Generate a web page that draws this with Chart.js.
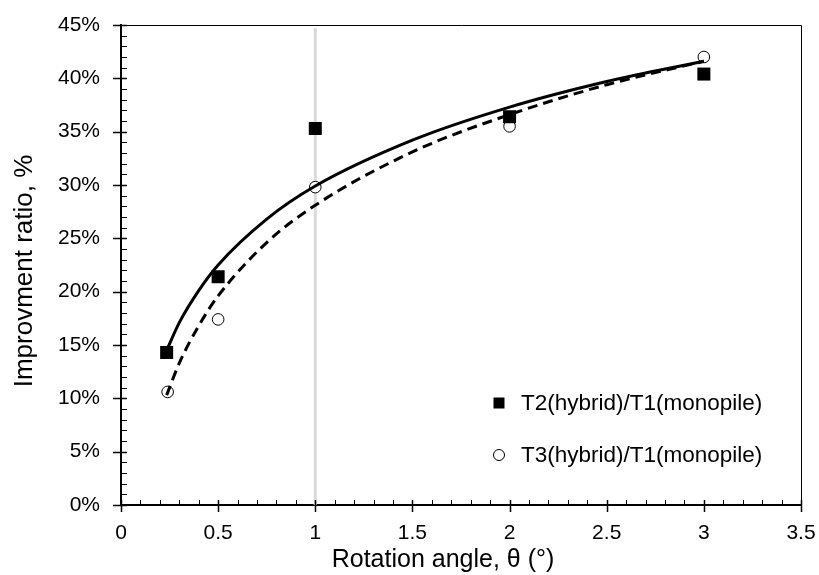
<!DOCTYPE html>
<html>
<head>
<meta charset="utf-8">
<script src="https://cdn.jsdelivr.net/npm/chart.js@4.4.1/dist/chart.umd.min.js"></script>
<style>
  html, body { margin: 0; padding: 0; background: #fff; }
  #wrap { width: 819px; height: 575px; }
</style>
</head>
<body>
<div id="wrap"><canvas id="ratioChart" width="819" height="575"></canvas></div>
<script>
// measured points
const t2Angle = [0.235, 0.5, 1, 2, 3];
const t2Ratio = [14.3, 21.4, 35.3, 36.4, 40.4];
const t3Angle = [0.24, 0.5, 1, 2, 3];
const t3Ratio = [10.6, 17.4, 29.8, 35.5, 42.0];

// trend lines
const trendAngle = [0.235, 0.3, 0.4, 0.5, 0.75, 1, 1.5, 2, 2.5, 3];
const t2Trend = [14.5, 17.1, 20.1, 22.5, 26.8, 29.9, 34.2, 37.3, 39.7, 41.6];
const t3Trend = [10.3, 13.3, 16.8, 19.6, 24.6, 28.1, 33.1, 36.6, 39.4, 41.6];

// grey marker line at 1 degree
const refAngle = [1, 1];
const refRatio = [0, 44.7];

const xTicks = [0, 0.5, 1, 1.5, 2, 2.5, 3, 3.5];
const yTicks = [0, 5, 10, 15, 20, 25, 30, 35, 40, 45];

const legendLabels = ['T2(hybrid)/T1(monopile)', 'T3(hybrid)/T1(monopile)'];
const xTitle = 'Rotation angle, θ (°)';
const yTitle = 'Improvment ratio, %';

const FONT = "'Liberation Sans', Arial, sans-serif";

function toPoints(xs, ys) {
  return xs.map((x, i) => ({ x: x, y: ys[i] }));
}

// no extra room for first/last labels
function noLabelPad(s) {
  s.paddingLeft = 0;
  s.paddingRight = 0;
  s.paddingTop = 0;
  s.paddingBottom = 0;
}

// inner/outer tick marks, top+right frame, axis titles, legend
const decorPlugin = {
  id: 'decor',
  afterDraw(chart) {
    const ctx = chart.ctx;
    const xs = chart.scales.x;
    const ys = chart.scales.y;
    const a = chart.chartArea;
    ctx.save();
    ctx.strokeStyle = '#000';

    // frame top + right
    ctx.lineWidth = 1;
    ctx.beginPath();
    ctx.moveTo(a.left, a.top + 0.5);
    ctx.lineTo(a.right + 0.5, a.top + 0.5);
    ctx.lineTo(a.right + 0.5, a.bottom);
    ctx.stroke();

    // x ticks
    for (let i = 0; i <= 35; i++) {
      const px = Math.round(xs.getPixelForValue(i / 10)) + 0.5;
      const major = i % 5 === 0;
      ctx.lineWidth = major ? 1.5 : 1;
      ctx.beginPath();
      ctx.moveTo(px, a.bottom - 5);
      ctx.lineTo(px, a.bottom + (major ? 7 : 0));
      ctx.stroke();
    }
    // y ticks
    for (let i = 0; i <= 45; i++) {
      const py = Math.round(ys.getPixelForValue(i)) + 0.5;
      const major = i % 5 === 0;
      ctx.lineWidth = major ? 1.5 : 1;
      ctx.beginPath();
      ctx.moveTo(a.left - (major ? 8 : 0), py);
      ctx.lineTo(a.left + 6, py);
      ctx.stroke();
    }

    // axis titles
    ctx.fillStyle = '#000';
    ctx.textBaseline = 'middle';
    ctx.textAlign = 'center';
    ctx.font = '25px ' + FONT;
    ctx.fillText(xTitle, 443, 560);
    ctx.save();
    ctx.translate(25, 271);
    ctx.rotate(-Math.PI / 2);
    ctx.font = '26px ' + FONT;
    ctx.fillText(yTitle, 0, 0);
    ctx.restore();

    // legend
    ctx.font = '22.5px ' + FONT;
    ctx.textAlign = 'left';
    ctx.fillRect(493.5, 397.5, 11, 11);
    ctx.fillText(legendLabels[0], 521, 404);
    ctx.lineWidth = 1;
    ctx.beginPath();
    ctx.arc(499, 455, 5.5, 0, Math.PI * 2);
    ctx.fillStyle = '#fff';
    ctx.fill();
    ctx.stroke();
    ctx.fillStyle = '#000';
    ctx.fillText(legendLabels[1], 521, 456);
    ctx.restore();
  }
};

const ctx = document.getElementById('ratioChart').getContext('2d');
new Chart(ctx, {
  type: 'scatter',
  data: {
    datasets: [
      {
        label: 'ref',
        data: toPoints(refAngle, refRatio),
        showLine: true,
        borderColor: '#d9d9d9',
        borderWidth: 3,
        pointRadius: 0,
        order: 3
      },
      {
        label: legendLabels[0],
        data: toPoints(t2Angle, t2Ratio),
        pointStyle: 'rect',
        pointRadius: 9.2,
        backgroundColor: '#000',
        borderColor: '#000',
        borderWidth: 0,
        order: 2
      },
      {
        label: legendLabels[1],
        data: toPoints(t3Angle, t3Ratio),
        pointStyle: 'circle',
        pointRadius: 5.8,
        backgroundColor: '#fff',
        borderColor: '#000',
        borderWidth: 1,
        order: 2
      },
      {
        label: 'T2 trend',
        data: toPoints(trendAngle, t2Trend),
        showLine: true,
        cubicInterpolationMode: 'monotone',
        borderColor: '#000',
        borderWidth: 3,
        pointRadius: 0,
        order: 1
      },
      {
        label: 'T3 trend',
        data: toPoints(trendAngle, t3Trend),
        showLine: true,
        cubicInterpolationMode: 'monotone',
        borderColor: '#000',
        borderWidth: 3,
        borderDash: [10, 6],
        pointRadius: 0,
        order: 1
      }
    ]
  },
  options: {
    responsive: false,
    animation: false,
    layout: { padding: { top: 25, right: 18, left: 0, bottom: 0 } },
    plugins: {
      legend: { display: false },
      tooltip: { enabled: false }
    },
    scales: {
      x: {
        type: 'linear',
        min: 0,
        max: 3.5,
        afterFit: s => { s.height = 70; noLabelPad(s); },
        afterBuildTicks: s => { s.ticks = xTicks.map(v => ({ value: v })); },
        grid: { display: false, drawTicks: false },
        border: { display: true, color: '#000', width: 2 },
        ticks: {
          color: '#000',
          padding: 16,
          font: { family: FONT, size: 21 },
          callback: v => String(v)
        }
      },
      y: {
        type: 'linear',
        min: 0,
        max: 45,
        afterFit: s => { s.width = 121; noLabelPad(s); },
        afterBuildTicks: s => { s.ticks = yTicks.map(v => ({ value: v })); },
        grid: { display: false, drawTicks: false },
        border: { display: true, color: '#000', width: 2 },
        ticks: {
          color: '#000',
          padding: 21,
          font: { family: FONT, size: 21 },
          callback: v => v + '%'
        }
      }
    }
  },
  plugins: [decorPlugin]
});
</script>
</body>
</html>
